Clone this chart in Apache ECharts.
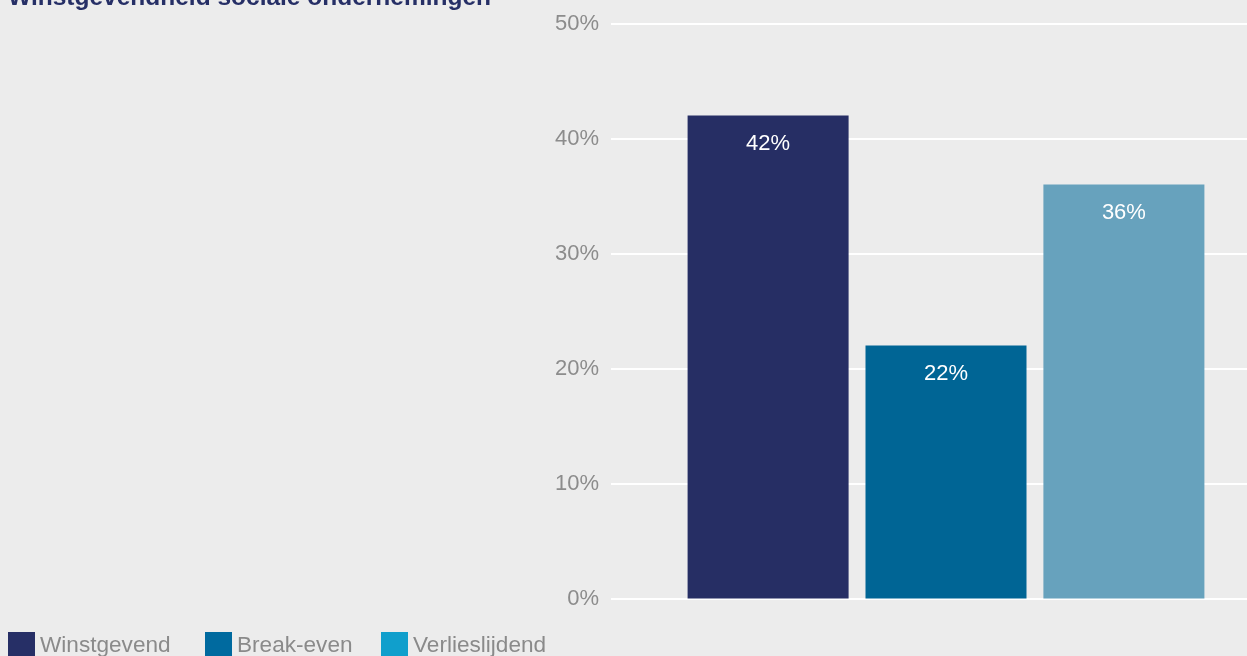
<!DOCTYPE html>
<html>
<head>
<meta charset="utf-8">
<title>Winstgevendheid sociale ondernemingen</title>
<script src="https://cdn.jsdelivr.net/npm/echarts@6/dist/echarts.min.js"></script>
<style>
  html, body { margin: 0; padding: 0; background: #ececec; }
  #chart { width: 1247px; height: 656px; }
</style>
</head>
<body>
<div id="chart"></div>
<script>
// Share of social enterprises by profitability (%)
const titleText = 'Winstgevendheid sociale ondernemingen';
const categories = ['Sociale ondernemingen'];
const seriesNames = ['Winstgevend', 'Break-even', 'Verlieslijdend'];
const seriesValues = [42, 22, 36];
const legendColors = ['#262f66', '#006a9f', '#109fcc'];
const barColors = ['#262e64', '#006595', '#67a2bd'];
const yTicks = { min: 0, max: 50, interval: 10 };

const FONT = '"Liberation Sans", Arial, Helvetica, sans-serif';
const legendLefts = [8, 205, 381];

const series = seriesNames.map((name, i) => ({
  name: name,
  type: 'bar',
  xAxisIndex: 1,
  yAxisIndex: 1,
  barWidth: 161,
  barGap: '10.5%',
  itemStyle: { color: legendColors[i] },
  data: [{ value: seriesValues[i], itemStyle: { color: barColors[i] } }],
  label: {
    show: true,
    position: 'insideTop',
    distance: 17,
    formatter: '{c}%',
    color: '#ffffff',
    fontSize: 22,
    fontFamily: FONT
  },
  emphasis: { disabled: true }
}));

const legends = seriesNames.map((name, i) => ({
  data: [name],
  left: legendLefts[i],
  top: 632,
  padding: 0,
  icon: 'rect',
  itemWidth: 27,
  itemHeight: 27,
  selectedMode: false,
  textStyle: { fontSize: 22.6, color: '#8a8a8a', fontFamily: FONT }
}));

const hiddenAxis = {
  axisLine: { show: false },
  axisTick: { show: false },
  axisLabel: { show: false },
  splitLine: { show: false }
};

const chart = echarts.init(document.getElementById('chart'), null, { renderer: 'canvas' });
chart.setOption({
  backgroundColor: '#ececec',
  animation: false,
  title: {
    text: titleText,
    left: 8,
    top: -14,
    padding: 0,
    textStyle: { fontSize: 24.5, fontWeight: 'bold', color: '#262f66', fontFamily: FONT }
  },
  legend: legends,
  grid: [
    // scale and gridlines
    { left: 611, right: 0, top: 23.5, bottom: 57.5 },
    // bar group
    { left: 645, right: 0, top: 23.5, bottom: 57.5 }
  ],
  xAxis: [
    Object.assign({ type: 'category', data: categories, gridIndex: 0 }, hiddenAxis),
    Object.assign({ type: 'category', data: categories, gridIndex: 1 }, hiddenAxis)
  ],
  yAxis: [
    {
      type: 'value',
      gridIndex: 0,
      min: yTicks.min,
      max: yTicks.max,
      interval: yTicks.interval,
      axisLine: { show: false },
      axisTick: { show: false },
      axisLabel: {
        formatter: '{value}%',
        margin: 12,
        color: '#8c8c8c',
        fontSize: 22,
        fontFamily: FONT
      },
      splitLine: { show: true, lineStyle: { color: '#ffffff', width: 2 } }
    },
    Object.assign({
      type: 'value',
      gridIndex: 1,
      min: yTicks.min,
      max: yTicks.max,
      interval: yTicks.interval
    }, hiddenAxis)
  ],
  series: series
});
</script>
</body>
</html>
